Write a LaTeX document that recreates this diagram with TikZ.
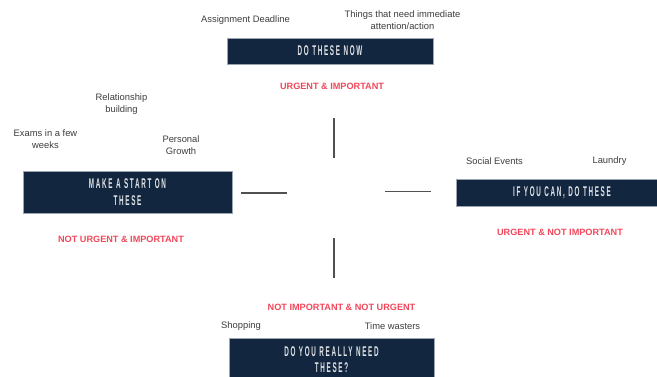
\documentclass[tikz,border=0pt]{standalone}
\usepackage{fontspec}
\usepackage{xcolor}
\setmainfont{Liberation Sans}
\newfontfamily\boxfont{Liberation Sans}[FakeStretch=0.45,LetterSpace=12]

\definecolor{navy}{HTML}{13263F}
\definecolor{edge}{HTML}{9AA5B1}
\definecolor{alert}{HTML}{F2475A}
\definecolor{note}{HTML}{3C3C3C}
\definecolor{rule}{HTML}{505050}

\begin{document}
\begin{tikzpicture}[
    x=0.03cm, y=-0.03cm,
    quad/.style={draw=edge, line width=0.5pt, fill=navy, text=white!88!navy,
        align=center, inner sep=0pt,
        font=\boxfont\bfseries\fontsize{12}{14.2}\selectfont},
    tag/.style={text=alert, font=\bfseries\fontsize{7.8}{9}\selectfont},
    item/.style={text=note, align=center, font=\fontsize{8}{10.2}\selectfont},
    tick/.style={draw=rule, line width=1.1pt}
]
\useasboundingbox (0,0) rectangle (657,377);

% quadrant boxes
\node[quad, minimum width=6.18cm, minimum height=0.78cm] (now) at (330,51) {DO THESE NOW};
\node[quad, minimum width=6.27cm, minimum height=1.26cm] (start) at (127.5,192) {MAKE A START ON\\THESE};
\node[quad, minimum width=6.36cm, minimum height=0.81cm] (can) at (562,192.5) {IF YOU CAN, DO THESE};
\node[quad, minimum width=6.15cm, minimum height=1.29cm] (need) at (331.5,359.5) {DO YOU REALLY NEED\\THESE?};

% quadrant headings
\node[tag] (ui) at (332,86) {URGENT \& IMPORTANT};
\node[tag] (nui) at (121,239) {NOT URGENT \& IMPORTANT};
\node[tag] (uni) at (560,232) {URGENT \& NOT IMPORTANT};
\node[tag] (ninu) at (341.5,307) {NOT IMPORTANT \& NOT URGENT};

% examples
\node[item] (deadline) at (245.5,20) {Assignment Deadline};
\node[item] (attention) at (402.5,20) {Things that need immediate\\attention/action};
\node[item] (relation) at (121.5,104) {Relationship\\building};
\node[item] (exams) at (45.5,139) {Exams in a few\\weeks};
\node[item] (growth) at (181,145) {Personal\\Growth};
\node[item] (social) at (494.5,161) {Social Events};
\node[item] (laundry) at (609.5,161) {Laundry};
\node[item] (shopping) at (241,326) {Shopping};
\node[item] (wasters) at (392.5,326) {Time wasters};

% centre cross
\coordinate (up1) at (334,118);
\coordinate (up2) at (334,158);
\coordinate (lt1) at (241,193);
\coordinate (lt2) at (287,193);
\coordinate (rt1) at (385,191.5);
\coordinate (rt2) at (431,191.5);
\coordinate (dn1) at (334,238);
\coordinate (dn2) at (334,278);
\draw[tick] (up1) -- (up2);
\draw[tick] (lt1) -- (lt2);
\draw[tick] (rt1) -- (rt2);
\draw[tick] (dn1) -- (dn2);

\end{tikzpicture}
\end{document}
